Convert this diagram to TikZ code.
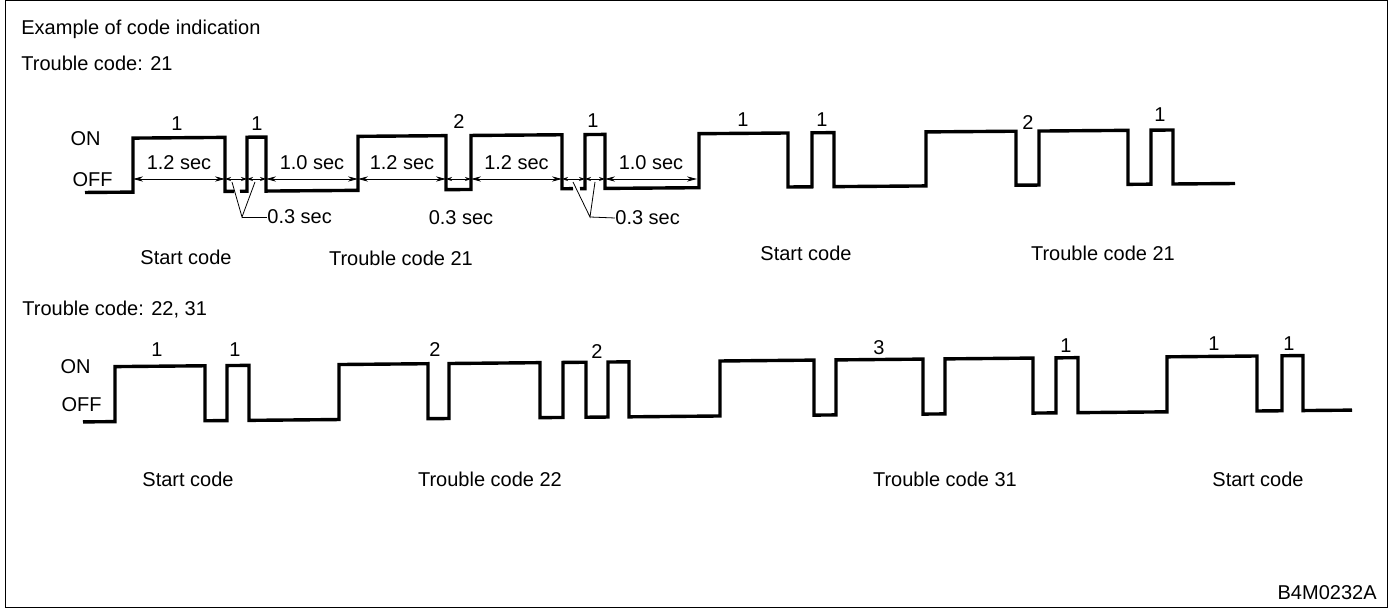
\documentclass[tikz,border=0pt]{standalone}
\usepackage{fontspec}
\setmainfont{Liberation Sans}
\usepackage{tikz}
\usetikzlibrary{arrows.meta,positioning}

\begin{document}
\begin{tikzpicture}[
        x=0.5pt, y=-0.5pt,
        signal/.style={line width=1.7pt, line join=miter},
        frame/.style={line width=0.5pt},
        dim/.style={line width=0.4pt, {Stealth[length=5pt,width=2.6pt]}-{Stealth[length=5pt,width=2.6pt]}},
        dimsmall/.style={line width=0.4pt, {Stealth[length=3pt,width=2pt]}-{Stealth[length=3pt,width=2pt]}},
        leader/.style={line width=0.4pt},
        count/.style={inner sep=1pt},
        caption/.style={inner sep=0pt}
    ]
        \useasboundingbox (0,0) rectangle (1389,609);
        \draw[frame] (5,1) rectangle (1387,608);

        % Headings
        \node[caption, anchor=west] (title) at (21,29) {Example of code indication};
        \node[caption, anchor=west] (head21) at (21,63) {Trouble code: 21};
        \node[caption, anchor=west] (head2231) at (22,310) {Trouble code: 22, 31};

        % Levels
        \node[caption, anchor=east] (on1) at (101,139) {ON};
        \node[caption, anchor=east] (off1) at (113,180) {OFF};
        \node[caption, anchor=east] (on2) at (91,367) {ON};
        \node[caption, anchor=east] (off2) at (102,405) {OFF};

        % Signal, trouble code 21 (the scan runs slightly uphill)
        \begin{scope}[yslant=0.0078, yshift=-2.57pt]
        \draw[signal] (85,188) -| (133,134) -| (225,188) -- (234,188);
        \draw[signal] (240,188) -| (247,134) -| (266,188) -| (358,134) -| (446,188)
            -| (471,134) -| (562,188) -- (573,188);
        \draw[signal] (580,188) -| (585,134) -| (605,188) -| (699,134) -| (788,188)
            -| (812,134) -| (834,188) -| (926,134) -| (1016,188) -| (1039,134)
            -| (1128,188) -| (1151,134) -| (1173,188) -- (1235,188);
        \end{scope}

        % Time marks
        \foreach \n/\x in {a/133, b/225, c/247, d/266, e/358, f/446, g/471, h/562, i/585, j/605, k/697}
            \coordinate (t\n) at (\x,179);

        \draw[dim] (ta) -- node[above=1pt] (sec12a) {1.2 sec} (tb);
        \draw[dimsmall] (tb) -- (tc);
        \draw[dimsmall] (tc) -- (td);
        \draw[dim] (td) -- node[above=1pt] (sec10a) {1.0 sec} (te);
        \draw[dim] (te) -- node[above=1pt] (sec12b) {1.2 sec} (tf);
        \draw[dimsmall] (tf) -- (tg);
        \draw[dim] (tg) -- node[above=1pt] (sec12c) {1.2 sec} (th);
        \draw[dimsmall] (th) -- (ti);
        \draw[dimsmall] (ti) -- (tj);
        \draw[dim] (tj) -- node[above=1pt] (sec10b) {1.0 sec} (tk);

        % 0.3 sec callouts
        \coordinate (vA) at (242,217);
        \coordinate (pA1) at (232,182);
        \coordinate (pA2) at (255,182);
        \node[caption, anchor=west] (sec03a) at (267,217) {0.3 sec};
        \draw[leader] (pA1) -- (vA) -- (pA2);
        \draw[leader] (vA) -- (sec03a.west);

        \node[caption] (sec03b) at (461,218) {0.3 sec};

        \coordinate (vB) at (590,217);
        \coordinate (pB1) at (573,182);
        \coordinate (pB2) at (595,182);
        \node[caption, anchor=west] (sec03c) at (615,218) {0.3 sec};
        \draw[leader] (pB1) -- (vB) -- (pB2);
        \draw[leader] (vB) -- (sec03c.west);

        % Pulse counts, row 1
        \node[count] (n1a) at (177,124) {1};
        \node[count] (n1b) at (257,124) {1};
        \node[count] (n1c) at (459,122) {2};
        \node[count] (n1d) at (593,121) {1};
        \node[count] (n1e) at (743,120) {1};
        \node[count] (n1f) at (822,120) {1};
        \node[count] (n1g) at (1028,123) {2};
        \node[count] (n1h) at (1160,115) {1};

        % Captions, row 1
        \node[caption] (start1a) at (186,257) {Start code};
        \node[caption] (trouble21a) at (401,258) {Trouble code 21};
        \node[caption] (start1b) at (806,253) {Start code};
        \node[caption] (trouble21b) at (1103,253) {Trouble code 21};

        % Signal, trouble code 22, 31
        \begin{scope}[yslant=0.0093, yshift=-3.34pt]
        \draw[signal] (83,416) -| (115,361) -| (205,416) -| (227,361) -| (249,416)
            -| (339,361) -| (428,416) -| (449,361) -| (540,416) -| (563,361)
            -| (586,416) -| (608,361) -| (629,416) -| (720,361) -| (814,416)
            -| (836,361) -| (923,416) -| (945,361) -| (1033,416) -| (1056,361)
            -| (1078,416) -| (1167,361) -| (1257,416) -| (1282,361) -| (1303,416)
            -- (1352,416);
        \end{scope}

        % Pulse counts, row 2
        \node[count] (n2a) at (157,350) {1};
        \node[count] (n2b) at (235,350) {1};
        \node[count] (n2c) at (435,350) {2};
        \node[count] (n2d) at (597,352) {2};
        \node[count] (n2e) at (879,348) {3};
        \node[count] (n2f) at (1066,346) {1};
        \node[count] (n2g) at (1214,344) {1};
        \node[count] (n2h) at (1289,344) {1};

        % Captions, row 2
        \node[caption] (start2a) at (188,479) {Start code};
        \node[caption] (trouble22) at (490,479) {Trouble code 22};
        \node[caption] (trouble31) at (945,479) {Trouble code 31};
        \node[caption] (start2b) at (1258,479) {Start code};

        \node[caption, anchor=east] (figid) at (1377,593) {B4M0232A};
    \end{tikzpicture}
\end{document}
